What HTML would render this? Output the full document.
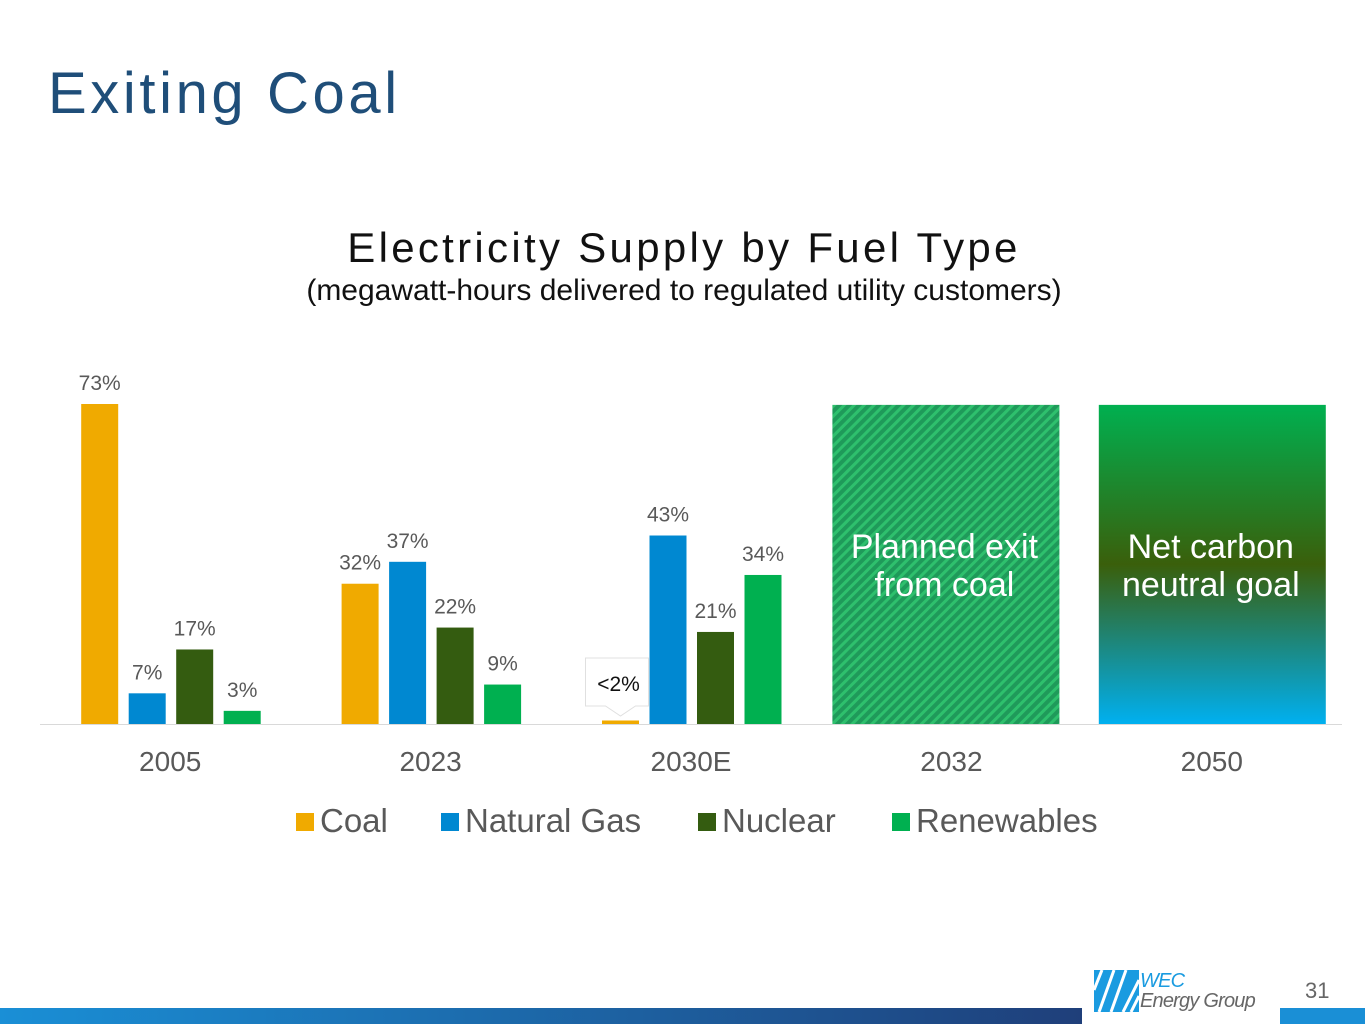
<!DOCTYPE html>
<html><head><meta charset="utf-8"><style>
body{margin:0;width:1365px;height:1024px;background:#fff;font-family:"Liberation Sans",sans-serif;position:relative;overflow:hidden}
.t{position:absolute;white-space:nowrap}
</style></head><body>
<div class="t" style="left:48px;top:60px;font-size:58px;color:#1f4e79;letter-spacing:3.6px">Exiting Coal</div>
<div class="t" style="left:0;width:1368px;text-align:center;top:224px;font-size:42px;color:#111;letter-spacing:3.3px">Electricity Supply by Fuel Type</div>
<div class="t" style="left:0;width:1368px;text-align:center;top:274px;font-size:30px;color:#111">(megawatt-hours delivered to regulated utility customers)</div>
<svg id="chart" width="1365" height="1024" style="position:absolute;left:0;top:0">
<defs>
<pattern id="hatch" width="7" height="7" patternUnits="userSpaceOnUse" patternTransform="rotate(45)"><rect width="7" height="7" fill="#1f9a5a"/><rect width="3" height="7" fill="#2ec06d"/></pattern>
<linearGradient id="g50" x1="0" y1="0" x2="0" y2="1"><stop offset="0" stop-color="#00b050"/><stop offset="0.5" stop-color="#3a5f0b"/><stop offset="1" stop-color="#00b0f0"/></linearGradient>
<linearGradient id="bar" x1="0" x2="1"><stop offset="0" stop-color="#1a8fd6"/><stop offset="1" stop-color="#1f3f7a"/></linearGradient>
</defs>
</svg>
<svg width="45" height="42" style="position:absolute;left:1094px;top:970px"><rect width="45" height="42" fill="#1a9be0"/><path d="M8 0L0 20M20 0L5 42M32 0L17 42M45 10L29 42M45 26L37 42" stroke="#fff" stroke-width="3"/></svg>
<div class="t" style="left:1140px;top:971px;font-size:20px;font-style:italic;color:#1a9be0;line-height:20px;letter-spacing:-0.8px">WEC<br><span style="color:#666">Energy Group</span></div>
<div class="t" style="left:1305px;top:978px;font-size:22px;color:#666">31</div>
<script>
const categories=["2005","2023","2030E","2032","2050"];
const seriesNames=["Coal","Natural Gas","Nuclear","Renewables"];
const colors=["#f0aa00","#0088d1","#345c10","#00b050"];
const coal=[73,32,0.8];
const gas=[7,37,43];
const nuclear=[17,22,21];
const renewables=[3,9,34];
const labels=[["73%","32%","<2%"],["7%","37%","43%"],["17%","22%","21%"],["3%","9%","34%"]];
const svg=document.getElementById('chart');const NS="http://www.w3.org/2000/svg";
const base=724,left=40,catW=260.4,ppu=320/73;
const xC=i=>left+catW*(i+0.5);const yV=v=>base-v*ppu;
function mk(t,a){const e=document.createElementNS(NS,t);for(const k in a)e.setAttribute(k,a[k]);svg.appendChild(e);return e;}
const ax=mk('line',{x1:40,x2:1342,y1:base+0.5,y2:base+0.5,stroke:'#d9d9d9','stroke-width':1});


const all=[coal,gas,nuclear,renewables];
all.forEach((s,si)=>s.forEach((v,ci)=>{
 const x=xC(ci)-89+si*47.5;
 const r=mk('rect',{x:x,y:yV(v),width:37,height:v*ppu,fill:colors[si]});
 
 
 if(!(si==0&&ci==2)){
 const t=mk('text',{x:x+18.5,y:yV(v)-14,'text-anchor':'middle','font-size':21,fill:'#595959'});t.textContent=labels[si][ci];
 
 }
}));
const cx=xC(2)-89+18.5;
const c=mk('path',{d:`M${cx-35} 658H${cx+28}V706H${cx+15}L${cx} 716L${cx-15} 706H${cx-35}Z`,fill:'#fff',stroke:'#e0e0e0'});


const ct=mk('text',{x:cx-2,y:691,'text-anchor':'middle','font-size':21,fill:'#111'});ct.textContent=labels[0][2];


const b1=mk('rect',{x:xC(3)-119,y:yV(72.8),width:227,height:72.8*ppu,fill:'url(#hatch)'});


const b2=mk('rect',{x:xC(4)-113,y:yV(72.8),width:227,height:72.8*ppu,fill:'url(#g50)'});


[[3,"Planned exit","from coal",-7],[4,"Net carbon","neutral goal",-1]].forEach(([ci,a,b,dx])=>{
 [a,b].forEach((s,k)=>{const t=mk('text',{x:xC(ci)+dx,y:558+k*38,'text-anchor':'middle','font-size':34,fill:'#fff'});t.textContent=s;
 
 });
});
categories.forEach((c,i)=>{const t=mk('text',{x:xC(i),y:771,'text-anchor':'middle','font-size':28,fill:'#595959'});t.textContent=c;
 
 });
const lx=[296,441,698,892];
seriesNames.forEach((n,i)=>{const r=mk('rect',{x:lx[i],y:813,width:18,height:18,fill:colors[i]});
 
 
 const t=mk('text',{x:lx[i]+24,y:832,'font-size':33,fill:'#595959'});t.textContent=n;
 
 });
const bb=mk('rect',{x:0,y:1008,width:1082,height:16,fill:'url(#bar)'});


const bb2=mk('rect',{x:1280,y:1008,width:85,height:16,fill:'#1a8fd6'});


</script>
</body></html>
